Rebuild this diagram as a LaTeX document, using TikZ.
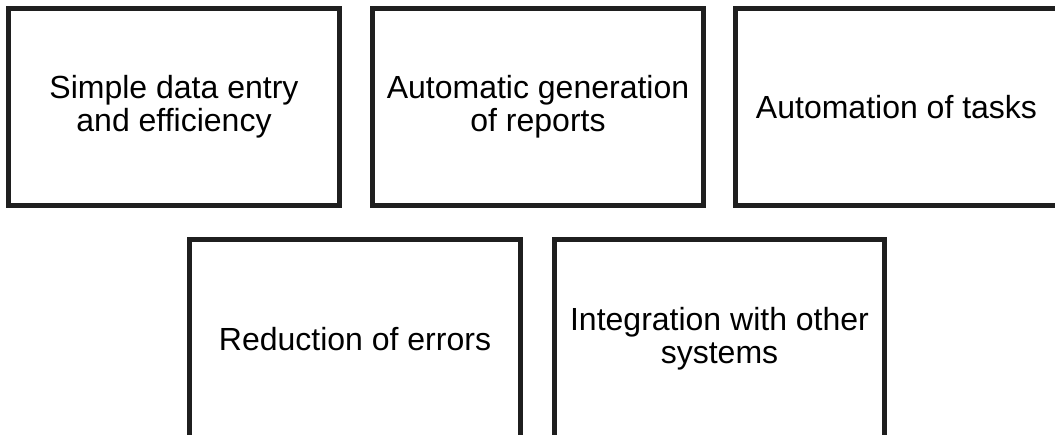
\documentclass[tikz,border=0pt]{standalone}
\usepackage{fontspec}
\setmainfont{Liberation Sans}
\begin{document}
\begin{tikzpicture}[x=1pt,y=-1pt,
  card/.style={draw=black!88, line width=5pt, fill=white, minimum width=331pt, minimum height=197pt, inner sep=0pt, outer sep=0pt, anchor=north west, align=center, font=\fontsize{32}{33}\selectfont}]
\useasboundingbox (0,0) rectangle (1055,435);
\clip (0,0) rectangle (1055,435);
\node[card] (a) at (8.5,8.5) {Simple data entry\\and efficiency};
\node[card] (b) at (372.5,8.5) {Automatic generation\\of reports};
\node[card, minimum width=340pt] (c) at (735.5,8.5) {Automation of tasks\hspace*{18pt}};
\node[card, minimum height=199pt] (d) at (189.5,239.5) {Reduction of errors};
\node[card, minimum width=330pt, minimum height=199pt] (e) at (554.5,239.5) {Integration with other\\systems};
\end{tikzpicture}
\end{document}
